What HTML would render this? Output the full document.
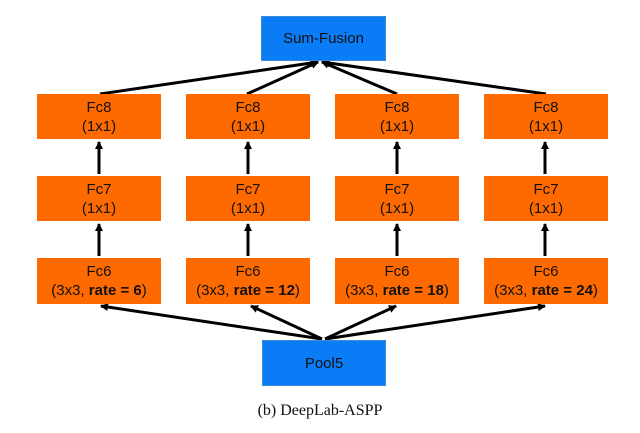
<!DOCTYPE html>
<html><head><style>
body{margin:0;width:640px;height:433px;background:#fff;position:relative;overflow:hidden;font-family:"Liberation Sans",Arial,sans-serif}
.b{position:absolute;display:flex;flex-direction:column;align-items:center;justify-content:center;font-size:15px;line-height:19px;color:#111;text-align:center;white-space:nowrap}
.o{background:#ff6a00}
.u{background:#0a7cf5;border:1px solid #3a8ad8;box-sizing:border-box}
svg{position:absolute;left:0;top:0}
.cap{position:absolute;top:402px;width:640px;text-align:center;font-family:"Liberation Serif",serif;font-size:16px;color:#111}
</style></head><body>
<svg width="640" height="433">
<defs><marker id="a" markerWidth="8" markerHeight="8" refX="7" refY="4" orient="auto" markerUnits="userSpaceOnUse"><path d="M0,0 L8,4 L0,8 z" fill="#000"/></marker></defs>
<g stroke="#000" stroke-width="3" fill="none" marker-end="url(#a)">
<line x1="100" y1="94" x2="318" y2="62"/>
<line x1="247" y1="94" x2="318" y2="62"/>
<line x1="397" y1="94" x2="322" y2="62"/>
<line x1="546" y1="94" x2="322" y2="62"/>
<line x1="99" y1="174" x2="99" y2="142"/>
<line x1="248" y1="174" x2="248" y2="142"/>
<line x1="397" y1="174" x2="397" y2="142"/>
<line x1="545" y1="174" x2="545" y2="142"/>
<line x1="99" y1="256" x2="99" y2="224"/>
<line x1="248" y1="256" x2="248" y2="224"/>
<line x1="397" y1="256" x2="397" y2="224"/>
<line x1="545" y1="256" x2="545" y2="224"/>
<line x1="322" y1="339" x2="101" y2="306"/>
<line x1="322" y1="339" x2="251" y2="306"/>
<line x1="325" y1="339" x2="396" y2="306"/>
<line x1="325" y1="339" x2="545" y2="306"/>
</g></svg>
<div class="b u" style="left:261px;top:16px;width:125px;height:45px">Sum-Fusion</div>
<div class="b o" style="left:37px;top:94px;width:124px;height:45px">Fc8<br>(1x1)</div>
<div class="b o" style="left:186px;top:94px;width:124px;height:45px">Fc8<br>(1x1)</div>
<div class="b o" style="left:335px;top:94px;width:124px;height:45px">Fc8<br>(1x1)</div>
<div class="b o" style="left:484px;top:94px;width:124px;height:45px">Fc8<br>(1x1)</div>
<div class="b o" style="left:37px;top:176px;width:124px;height:45px">Fc7<br>(1x1)</div>
<div class="b o" style="left:186px;top:176px;width:124px;height:45px">Fc7<br>(1x1)</div>
<div class="b o" style="left:335px;top:176px;width:124px;height:45px">Fc7<br>(1x1)</div>
<div class="b o" style="left:484px;top:176px;width:124px;height:45px">Fc7<br>(1x1)</div>
<div class="b o" style="left:37px;top:258px;width:124px;height:46px">Fc6<br><span>(3x3, <b>rate = 6</b>)</span></div>
<div class="b o" style="left:186px;top:258px;width:124px;height:46px">Fc6<br><span>(3x3, <b>rate = 12</b>)</span></div>
<div class="b o" style="left:335px;top:258px;width:124px;height:46px">Fc6<br><span>(3x3, <b>rate = 18</b>)</span></div>
<div class="b o" style="left:484px;top:258px;width:124px;height:46px">Fc6<br><span>(3x3, <b>rate = 24</b>)</span></div>
<div class="b u" style="left:262px;top:340px;width:124px;height:46px">Pool5</div>
<div class="cap">(b) DeepLab-ASPP</div>
</body></html>
